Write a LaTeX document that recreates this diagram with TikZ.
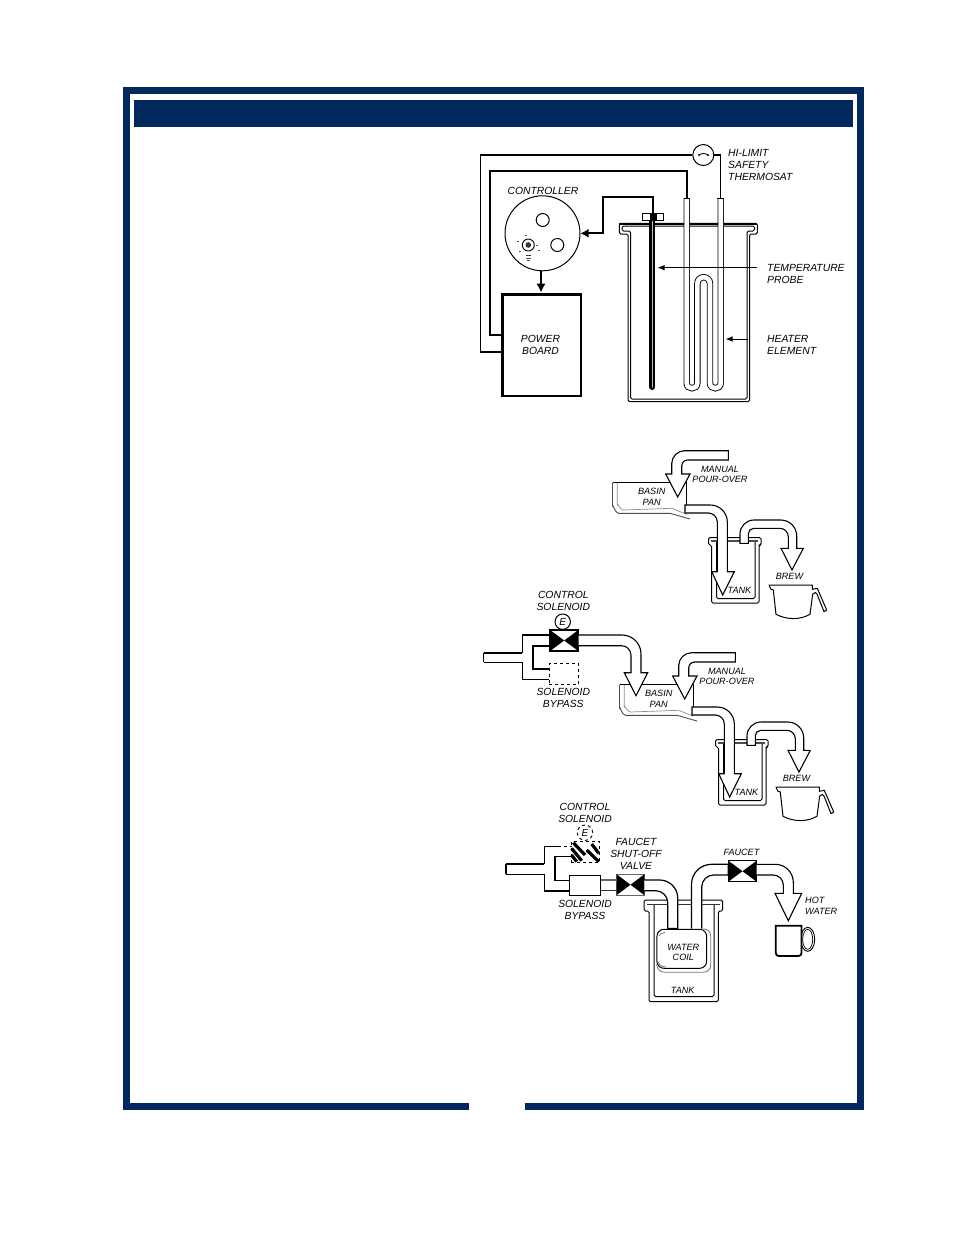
\documentclass[tikz,border=0pt]{standalone}
\usepackage{fontspec}
\setmainfont{Liberation Sans}
\usetikzlibrary{arrows.meta}
\definecolor{navy}{HTML}{00285C}
\tikzset{
  lbl/.style={font=\fontsize{10.35}{12}\selectfont\itshape,align=center,inner sep=0pt},
  lblleft/.style={lbl,align=left},
  smalllbl/.style={font=\fontsize{9.1}{10.7}\selectfont\itshape,align=center,inner sep=0pt},
  smallleft/.style={smalllbl,align=left},
  wire/.style={line width=1.5pt},
  thinwire/.style={line width=1pt},
  lead/.style={line width=.9pt,-{Latex[length=7pt,width=5.5pt]}},
  blockarrow/.style={draw,fill=white,line width=1.1pt,miter limit=10},
  tubeline/.style={line width=.9pt,double=white,double distance=4.6pt},
  wall/.style={line width=1pt,rounded corners=1.5pt},
  pipeline/.style={line width=1.2pt},
  valvebox/.style={draw,line width=1pt,fill=white,inner sep=0pt,outer sep=0pt},
}
\newcommand{\valvefill}[1]{
  \fill (#1.north west) -- (#1.center) -- (#1.south west) -- cycle;
  \fill (#1.north east) -- (#1.center) -- (#1.south east) -- cycle;
}
\newcommand{\brewflow}{
  \draw[line width=.9pt,black!70] (612.5,482.7) -- (612.5,506) to[out=90,in=180] (618.5,513.3) -- (670,513.3) -- (690,519);
  \draw[line width=.7pt,black!45] (617.3,482.7) -- (617.3,505) to[out=90,in=180] (623.3,510) -- (671.7,508.3) -- (686.7,514.3);
  \draw[line width=1pt] (612.5,482.7) -- (686.3,482.7) -- (686.3,505);
  \draw[blockarrow] (728.3,450.7) [rounded corners=13] -- (671.7,450.7) [sharp corners] -- (671.7,474) -- (665.7,474) -- (677.7,497) -- (690,474) -- (681.7,474) [rounded corners=6] -- (681.7,460) [sharp corners] -- (728.3,460) -- cycle;
  \draw[wall] (708.5,537.5) -- (761,537.5) -- (761,545) -- (759,545) -- (759,603) -- (711.5,603) -- (711.5,545) -- (708.5,545) -- cycle;
  \draw[wall] (716.5,541) -- (716.5,598.5) -- (755,598.5) -- (755,541);
  \draw[line width=1.4pt,black!70] (711,541) -- (758,541);
  \draw[blockarrow] (685,505) [rounded corners=17] -- (727.3,505) [sharp corners] -- (727.3,571.7) -- (734.3,571.7) -- (722.7,595) -- (711.7,571.7) -- (717.3,571.7) [rounded corners=9] -- (717.3,513) [sharp corners] -- (685,513) -- cycle;
  \draw[blockarrow] (740,543.3) [rounded corners=14] -- (740,520) [rounded corners=16] -- (796.7,520) [sharp corners] -- (796.7,548.3) -- (803.3,548.3) -- (792,570) -- (781,548.3) -- (788.3,548.3) [rounded corners=8.5] -- (788.3,528.3) [rounded corners=5.5] -- (748.3,528.3) [sharp corners] -- (748.3,543.3) -- cycle;
  \draw[line width=1pt,line join=round] (769,585) -- (770.7,589) -- (773.3,590) -- (776,614.3) .. controls (787,620) and (800,620) .. (810,614.3) -- (812.7,594) .. controls (815,592) and (816,592) .. (817,594) -- (824,611.7) -- (826.7,610) -- (817.3,588.3) -- (812.3,589.3) -- (812.3,585) -- cycle;
  \node[smalllbl] (manual) at (720,474.3) {MANUAL\\POUR-OVER};
  \node[smalllbl] (basin) at (651.7,496.5) {BASIN\\PAN};
  \node[smalllbl] (tank) at (739.5,590.7) {TANK};
  \node[smalllbl] (brew) at (789.5,576.7) {BREW};
}
\begin{document}
\begin{tikzpicture}[x=1pt,y=-1pt]
\useasboundingbox (0,0) rectangle (954,1235);
\draw[navy,line width=7pt] (469,1106.7) -- (126.5,1106.7) -- (126.5,90.5) -- (860.5,90.5) -- (860.5,1106.7) -- (525,1106.7);
\fill[navy] (134,100) rectangle (853,127);

\draw[wall] (619.3,223.3) -- (757.3,223.3) -- (757.3,234) -- (749.5,234) -- (749.5,401.7) -- (628,401.7) -- (628,234) -- (619.3,234) -- cycle;
\draw[wall] (622,231) -- (622,226) -- (754.5,226) -- (754.5,231) -- (747,231) -- (747,399) -- (630.5,399) -- (630.5,231) -- cycle;
\draw[line width=1.8pt] (619.3,224) -- (757.3,224);
\draw[tubeline] (686.7,198) -- (686.7,383) .. controls (686.7,390) and (697.3,390) .. (697.3,383) -- (697.3,284) .. controls (697.3,275) and (710,275) .. (710,284) -- (710,383) .. controls (710,390) and (720.7,390) .. (720.7,383) -- (720.7,198);
\draw[line width=.9pt] (683.5,198) -- (690,198);
\draw[line width=.9pt] (717.4,198) -- (724,198);
\draw[line width=6pt,line cap=round] (652.3,220) -- (652.3,387);
\draw[line width=1.3pt,black!25,line cap=round] (652.3,220) -- (652.3,387);

\node[draw,line width=2.5pt,minimum width=78.5pt,minimum height=101.5pt,inner sep=0pt] (board) at (541.7,345.2) {};
\node[lbl,anchor=center] (boardtext) at (540.5,345) {POWER\\BOARD};
\node[draw,circle,line width=1pt,minimum size=75pt,inner sep=0pt] (controller) at (542.5,233.3) {};
\node[lbl] (controllertext) at (543,191) {CONTROLLER};
\node[draw,circle,line width=1pt,minimum size=13pt,inner sep=0pt] (holea) at (542.7,220) {};
\node[draw,circle,line width=1pt,minimum size=13pt,inner sep=0pt] (holeb) at (557.3,245) {};
\node[draw,circle,line width=.9pt,minimum size=12pt,inner sep=0pt] (dial) at (528.3,245) {};
\fill[black!80] (dial) circle[radius=2.8];
\foreach \dx/\dy in {526/235,518/241,520/251,537/245,539/250}
  \fill[black!70] (\dx-1,\dy-.5) rectangle (\dx+1,\dy+.5);
\fill[black!80] (525.5,255) rectangle (531,256.3);
\fill[black!70] (525.5,257.5) rectangle (531,258.5);
\fill[black!70] (527,260) rectangle (529.5,261);
\node[draw,circle,line width=1pt,minimum size=21pt,inner sep=0pt] (limit) at (703.3,155) {};
\fill (699,155) circle[radius=1.1];
\fill (708,155) circle[radius=1.1];
\draw[line width=.8pt] (699,155) .. controls (702,153) and (705,153) .. (708,155);
\node[draw,line width=1pt,minimum width=20.5pt,minimum height=6.8pt,inner sep=0pt,fill=white] (probehead) at (653,216.7) {};
\fill (649.8,213.3) rectangle (656.6,220.1);

\coordinate (outerfoot) at (501,352);
\coordinate (innerfoot) at (501,335);
\coordinate (heatleft) at (686.7,198);
\coordinate (heatright) at (720.7,198);
\coordinate (tempstart) at (757,267.7);
\coordinate (temptip) at (657.5,267.7);
\coordinate (heatstart) at (748.3,339);
\coordinate (heattip) at (725.5,339);
\draw[wire] (outerfoot) -| (480.5,155) -- (limit.west);
\draw[wire] (limit.east) -| (heatright);
\draw[wire,line width=1.8pt] (innerfoot) -| (490,171) -| (heatleft);
\draw[wire,line width=1.8pt,-{Latex[length=8pt,width=9pt]}] (probehead.north) |- (603.3,196.7) |- (controller.east);
\draw[wire,line width=2pt,-{Latex[length=9pt,width=9.5pt]}] (controller.south) ++(-1.5,0) -- (541,292.5);
\draw[lead] (tempstart) -- (temptip);
\draw[lead] (heatstart) -- (heattip);
\node[lblleft,anchor=west] (limittext) at (728,165) {HI-LIMIT\\SAFETY\\THERMOSAT};
\node[lblleft,anchor=west] (temptext) at (767,274) {TEMPERATURE\\PROBE};
\node[lblleft,anchor=west] (heattext) at (767,345) {HEATER\\ELEMENT};

\brewflow
\begin{scope}[shift={(7,202)}]
\brewflow
\end{scope}

\node[lbl] (ctrltexta) at (563.3,601) {CONTROL\\SOLENOID};
\node[draw,circle,line width=1pt,minimum size=15.4pt,inner sep=0pt] (ecoila) at (562.7,621.7) {\fontsize{10}{10}\selectfont\itshape E};
\node[valvebox,draw=none,minimum width=28.3pt,minimum height=21pt] (solvalve) at (564.2,640.5) {};
\valvefill{solvalve}
\draw[line width=2pt] (solvalve.north west) rectangle (solvalve.south east);
\node[draw,dashed,line width=.9pt,minimum width=29.3pt,minimum height=21pt,inner sep=0pt] (solbypass) at (563.7,673.8) {};
\node[lbl] (bypasstexta) at (563.3,698) {SOLENOID\\BYPASS};
\coordinate (inleta) at (483.5,652.7);
\coordinate (inletb) at (483.5,662.3);
\draw[pipeline,line width=1.6pt] (inleta) -- (inletb);
\draw[pipeline,line width=1.6pt] (inleta) -- (522.3,652.7);
\draw[pipeline] (522.3,652.7) |- (550,635);
\draw[pipeline] (inletb) -| (522.3,679.3) -- (549,679.3);
\draw[wire,line width=1.9pt] (550,645.7) -| (533.3,669) -- (549,669);
\draw[blockarrow] (578.5,635) [rounded corners=19] -- (641,635) [sharp corners] -- (641,672.7) -- (647.7,672.7) -- (636,695.7) -- (624.3,672.7) -- (631,672.7) [rounded corners=9.5] -- (631,645.7) [sharp corners] -- (578.5,645.7);

\node[lbl] (ctrltextb) at (585,812.5) {CONTROL\\SOLENOID};
\node[draw,dashed,circle,line width=.9pt,minimum size=15.4pt,inner sep=0pt] (ecoilb) at (585,832.7) {\fontsize{10}{10}\selectfont\itshape E};
\node[draw,dashed,line width=1pt,minimum width=28.3pt,minimum height=21pt,inner sep=0pt] (offvalve) at (585.2,852.2) {};
\begin{scope}[line width=3.2pt]
\draw (573.3,842.7) -- (585,855);
\draw (571.6,848.3) -- (581.7,860.7);
\draw (571.6,855) -- (576.7,861.7);
\draw (586.7,850) -- (598.8,861.7);
\draw (591.7,844) -- (598.8,853.3);
\end{scope}
\coordinate (inletc) at (506,864);
\coordinate (inletd) at (506,874.3);
\draw[pipeline] (inletc) -- (inletd);
\draw[pipeline,line width=1.8pt] (inletc) -- (544.3,864);
\draw[pipeline] (544.3,864) |- (558,846.7);
\draw[pipeline,dashed] (558,846.7) -- (571.5,846.7);
\draw[pipeline] (inletd) -- (544.3,874.3);
\draw[pipeline] (544.3,874.3) -- (544.3,891);
\draw[wire,line width=1.8pt] (544.3,891) -- (570,891);
\draw[pipeline] (571.5,856.7) -| (555,880.7) -- (570,880.7);
\node[valvebox,minimum width=30.7pt,minimum height=20.7pt] (bypassbox) at (585.3,885.6) {};
\node[lbl] (bypasstextb) at (585,910) {SOLENOID\\BYPASS};
\node[lbl] (shutofftext) at (636,854.3) {FAUCET\\SHUT-OFF\\VALVE};
\node[valvebox,line width=.7pt,draw=black!60,minimum width=27.6pt,minimum height=20.7pt] (shutoff) at (630.5,884.7) {};
\valvefill{shutoff}
\draw[line width=1.6pt,black!60] (bypassbox.east |- 0,880) -- (shutoff.west |- 0,880);
\draw[line width=1pt,black!80] (bypassbox.east |- 0,890.7) -- (shutoff.west |- 0,890.7);

\draw[wall] (644,900) -- (722.7,900) -- (722.7,911) -- (718.3,911) -- (718.3,1001.7) -- (649,1001.7) -- (649,911) -- (644,911) -- cycle;
\draw[wall] (654,904.5) -- (654,996.5) -- (714,996.5) -- (714,904.5);
\draw[line width=1.2pt,black!80] (647,904.5) -- (720,904.5);

\node[valvebox,minimum width=28.4pt,minimum height=21pt] (faucet) at (742.5,871.2) {};
\valvefill{faucet}
\draw[pipeline,fill=white] (644.3,880) [rounded corners=18] -- (677.7,880) [sharp corners] -- (677.7,928.5) -- (667.7,928.5) [rounded corners=12] -- (667.7,890.7) [sharp corners] -- (644.3,890.7);
\draw[pipeline,fill=white] (691.5,928.5) [rounded corners=20] -- (691.5,864.3) [sharp corners] -- (728.3,864.3) -- (728.3,875) [rounded corners=12] -- (701.7,875) [sharp corners] -- (701.7,928.5);
\draw[blockarrow] (756.7,864.3) [rounded corners=18] -- (793.3,864.3) [sharp corners] -- (793.3,893.3) -- (801.7,893.3) -- (788.3,920.7) -- (775,893.3) -- (783.3,893.3) [rounded corners=10] -- (783.3,875) [sharp corners] -- (756.7,875);

\node[draw,line width=1pt,rounded corners=7pt,minimum width=49.7pt,minimum height=39pt,inner sep=0pt] (coil) at (681.8,948.8) {};
\draw[line width=.8pt,black!55] (703,928.8) .. controls (708,929) and (710.7,932) .. (710.7,936) -- (710.7,965) .. controls (710.7,969) and (708,972.3) .. (703,972.3) -- (665,972.3) .. controls (660,972.3) and (657,969) .. (656.7,964);
\draw[line width=.8pt,black!55] (659,936) .. controls (661,933) and (662,933) .. (665,932.5);
\draw[line width=.8pt,black!55] (658,962) .. controls (660,966) and (662,966.5) .. (666,967);
\node[smalllbl] (coiltext) at (683.3,952.3) {WATER\\COIL};
\node[smalllbl] (tanktext) at (682.7,990) {TANK};
\node[smalllbl] (faucettext) at (741.5,852.5) {FAUCET};
\node[smallleft,anchor=west] (hottext) at (805,905.7) {HOT\\WATER};

\draw[line width=.9pt] (807.7,939.3) ellipse[x radius=7,y radius=12];
\draw[line width=.7pt] (807.7,939.3) ellipse[x radius=5,y radius=10];
\draw[line width=1.8pt,fill=white] (775.8,925.7) -- (801.5,925.7) [rounded corners=3pt] -- (801.5,956) -- (775.8,956) [sharp corners] -- cycle;
\end{tikzpicture}
\end{document}
